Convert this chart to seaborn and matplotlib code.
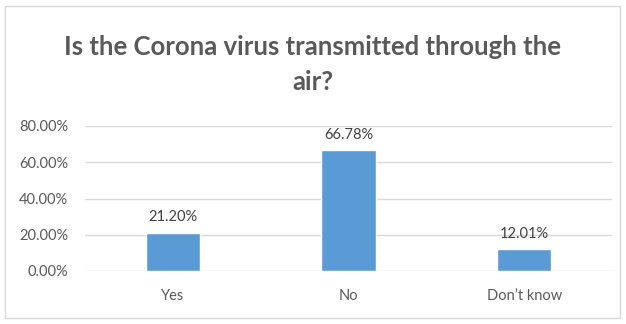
import matplotlib
matplotlib.use("Agg")
import matplotlib.pyplot as plt
import seaborn as sns
import pandas as pd
from matplotlib.patches import Rectangle

categories = ["Yes", "No", "Don\u2019t know"]
values = [21.20, 66.78, 12.01]
yticks = [0, 20, 40, 60, 80]
title_lines = ["Is the Corona virus transmitted through the", "air?"]

sns.set_style("white")
plt.rcParams['font.family'] = ['Lato', 'DejaVu Sans']

df = pd.DataFrame({"cat": categories, "val": values})

fig = plt.figure(figsize=(6.26, 3.24), dpi=100)
ax = fig.add_axes([85/626, 53/324, (612-85)/626, (271-126)/324])

sns.barplot(data=df, x="cat", y="val", color="#5B9BD5", width=0.31, saturation=1, ax=ax, zorder=3)

ax.set_ylim(0, 80)
ax.set_xlim(-0.5, 2.5)
ax.set_yticks(yticks)
ax.set_yticklabels([f"{t:.2f}%" for t in yticks], color="#595959", fontsize=10.5)
ax.tick_params(axis='x', colors="#595959", labelsize=10.5, length=0, pad=13)
ax.tick_params(axis='y', length=0, pad=12)
ax.set_xlabel("")
ax.set_ylabel("")
for s in ax.spines.values():
    s.set_visible(False)
ax.yaxis.grid(True, color="#D9D9D9", linewidth=1, zorder=0)
ax.set_axisbelow(True)

for i, v in enumerate(values):
    ax.annotate(f"{v:.2f}%", (i, v), xytext=(0, 6), textcoords="offset points",
                ha="center", va="bottom", fontsize=10.5, color="#404040")

for line, ypx in zip(title_lines, [47, 82]):
    fig.text(0.5, 1 - ypx/324, line, ha="center", va="center", fontsize=18.5,
             fontweight="bold", color="#595959")

fig.patches.append(Rectangle((5/626, 6/324), 615/626, 312/324, transform=fig.transFigure,
                             fill=False, edgecolor="#D9D9D9", linewidth=1))

fig.savefig("out.png", dpi=100)
